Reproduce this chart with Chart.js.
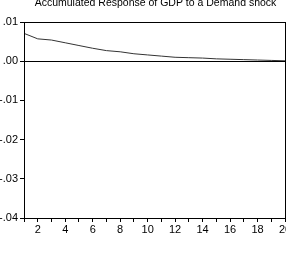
<!DOCTYPE html>
<html>
<head>
<meta charset="utf-8">
<script src="https://cdn.jsdelivr.net/npm/chart.js@4/dist/chart.umd.min.js"></script>
<style>
  html, body { margin: 0; padding: 0; background: #fff; }
  #wrap { width: 286px; height: 258px; }
</style>
</head>
<body>
<div id="wrap"><canvas id="irf"></canvas></div>
<script>
// horizon periods and accumulated response values
const periods = [1, 2, 3, 4, 5, 6, 7, 8, 9, 10, 11, 12, 13, 14, 15, 16, 17, 18, 19, 20];
const response = [0.0071, 0.0057, 0.0054, 0.0047, 0.0040, 0.0033, 0.0027, 0.0024, 0.0019, 0.0016,
                  0.0013, 0.0010, 0.0009, 0.0008, 0.0006, 0.0005, 0.0004, 0.0003, 0.0002, 0.0001];
const yTicks = [0.01, 0.00, -0.01, -0.02, -0.03, -0.04];
const chartTitle = 'Accumulated Response of GDP to a Demand shock';

// cerceve, sifir cizgisi ve baslik (baslik cizim alaninin ortasinda, ust kismi kesik)
const framePlugin = {
    id: 'frame',
    afterDatasetsDraw(chart) {
        const { ctx, chartArea: a, scales } = chart;
        ctx.save();
        ctx.strokeStyle = '#000';
        ctx.lineWidth = 1;
        const y0 = Math.round(scales.y.getPixelForValue(0)) + 0.5;
        ctx.beginPath();
        ctx.moveTo(a.left, y0);
        ctx.lineTo(a.right, y0);
        ctx.stroke();
        ctx.strokeRect(Math.round(a.left) + 0.5, Math.round(a.top) + 0.5,
                       Math.round(a.right - a.left), Math.round(a.bottom - a.top));

        ctx.fillStyle = '#000';
        ctx.font = '10.5px "Liberation Sans", Arial';
        ctx.textAlign = 'center';
        ctx.textBaseline = 'alphabetic';
        ctx.fillText(chartTitle, (a.left + a.right) / 2 + 1, 6);
        ctx.restore();
    }
};

(function () {
    "use strict";
    const ctx = document.getElementById('irf').getContext('2d');

    new Chart(ctx, {
        type: 'line',
        data: {
            datasets: [{
                data: periods.map((p, i) => ({ x: p, y: response[i] })),
                borderColor: '#333',
                borderWidth: 1,
                pointRadius: 0,
                tension: 0,
                fill: false
            }]
        },
        options: {
            responsive: true,
            maintainAspectRatio: false,
            animation: false,
            layout: { padding: { left: 0, right: 1, top: 22, bottom: 0 } },
            plugins: {
                legend: { display: false },
                tooltip: { enabled: false },
                title: { display: false }
            },
            scales: {
                x: {
                    type: 'linear',
                    min: 1,
                    max: 20,
                    afterFit(s) { s.height = 40; s.paddingLeft = 0; s.paddingRight = 0; },
                    border: { display: true, color: '#000', width: 1 },
                    grid: { drawOnChartArea: false, tickLength: 4, color: '#000' },
                    ticks: {
                        stepSize: 1,
                        autoSkip: false,
                        maxRotation: 0,
                        padding: 1,
                        color: '#000',
                        font: { family: 'Liberation Sans, Arial', size: 11 },
                        callback: v => (v % 2 === 0 ? String(v) : '')
                    }
                },
                y: {
                    min: -0.04,
                    max: 0.01,
                    afterFit(s) { s.width = 24; s.paddingTop = 0; s.paddingBottom = 0; },
                    afterBuildTicks(s) { s.ticks = yTicks.map(v => ({ value: v })); },
                    border: { display: true, color: '#000', width: 1 },
                    grid: { drawOnChartArea: false, tickLength: 4, color: '#000' },
                    ticks: {
                        padding: 2,
                        color: '#000',
                        font: { family: 'Liberation Sans, Arial', size: 11 },
                        callback: v => v.toFixed(2).replace('0.', '.')
                    }
                }
            }
        },
        plugins: [framePlugin]
    });
})();
</script>
</body>
</html>
